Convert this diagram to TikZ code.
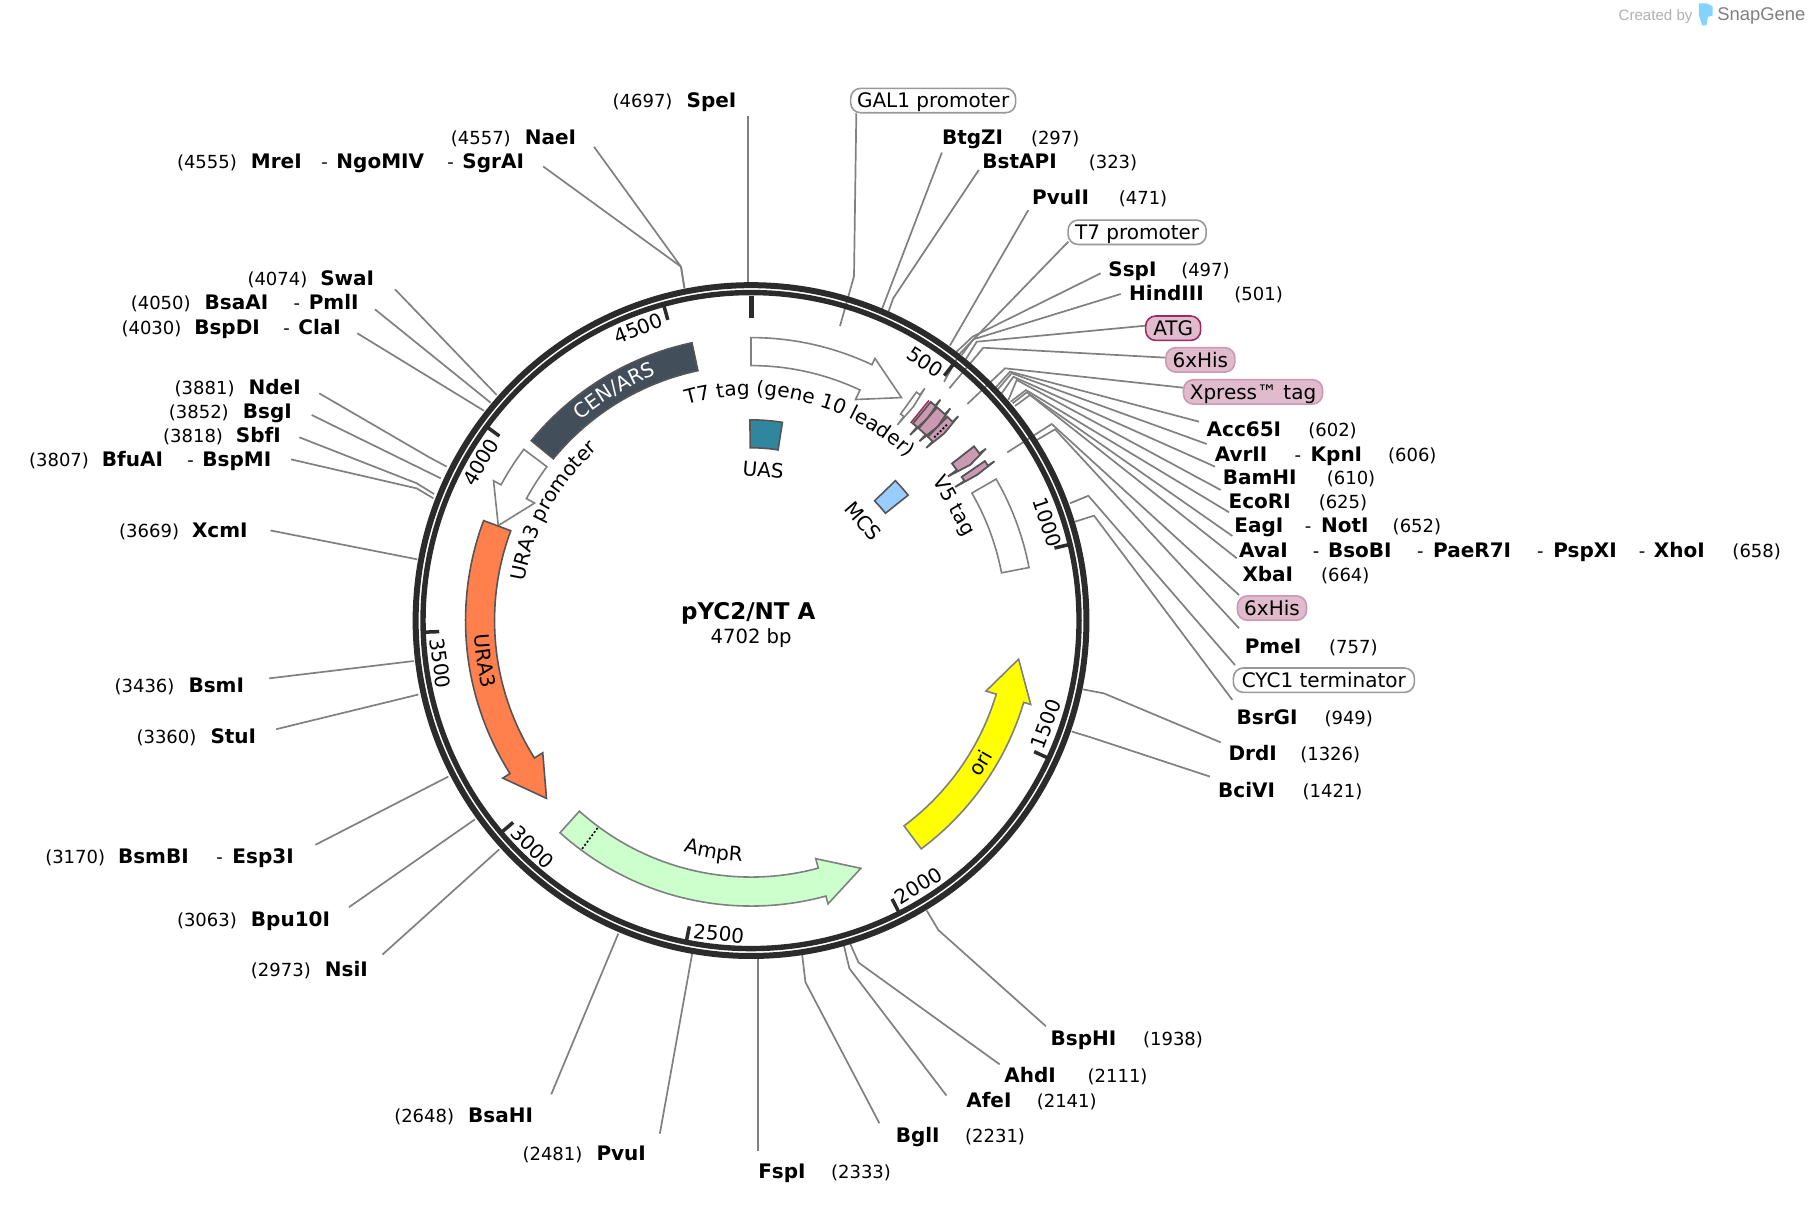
\documentclass[tikz,border=0pt]{standalone}
\usepackage{fontspec}
\setmainfont{DejaVu Sans}
\newfontfamily\wmfont{Liberation Sans}
\usetikzlibrary{decorations.text}

\definecolor{ringc}{HTML}{2B2B2B}
\definecolor{leaderc}{HTML}{808080}
\definecolor{edgec}{HTML}{555555}
\definecolor{cenc}{HTML}{434E5B}
\definecolor{urac}{HTML}{FF7F4D}
\definecolor{ampc}{HTML}{CCFFCC}
\definecolor{oric}{HTML}{FFFF00}
\definecolor{uasc}{HTML}{31869F}
\definecolor{mcsc}{HTML}{99CCFF}
\definecolor{pinkc}{HTML}{CC99B2}
\definecolor{pillc}{HTML}{E0BBCB}
\definecolor{atgc}{HTML}{9E2A63}

\newcommand{\featfont}{\fontsize{20}{22}\selectfont}
\newcommand{\featbox}[5]{\draw[#1] plot[domain=#2:#3,samples=25] (\x-90:#5) -- plot[domain=#3:#2,samples=25] (\x-90:#4) -- cycle;}
\newcommand{\featarrow}[8]{\draw[#1] plot[domain=#2:#3,samples=40] (\x-90:#6) -- (#3-90:#8) -- (#4-90:{(#5+#6)/2}) -- (#3-90:#7) -- (#3-90:#5) -- plot[domain=#3:#2,samples=40] (\x-90:#5) -- cycle;}

\tikzset{
	leader/.style={draw=leaderc,line width=1.7pt},
	enz/.style={anchor=base west,inner sep=0pt,yshift=-7pt,font=\fontsize{20}{22}\selectfont\bfseries},
	sitepos/.style={anchor=base west,inner sep=0pt,yshift=-7pt,font=\fontsize{18}{20}\selectfont},
	pill/.style={draw=#1,rounded corners=10pt,line width=1.6pt,inner sep=0pt,text height=19.5pt,text depth=4.9pt,font=\featfont},
	tickm/.style={draw=ringc,line width=3.5pt},
	ticktext/.style={font=\featfont,inner sep=0pt},
	outl/.style={draw=leaderc,fill=white,line width=1.6pt},
	colr/.style={draw=edgec,fill=#1,line width=1.6pt},
	tagf/.style={draw=edgec,fill=pinkc,line width=1.8pt},
	dots/.style={draw=black,dash pattern=on 2pt off 2pt,line width=1.6pt},
}

\begin{document}
\begin{tikzpicture}[x=1.1556pt,y=-1.1556pt]
	\useasboundingbox[fill=white] (0,0) rectangle (1568,1041.9);
	\coordinate (ctr) at (649.9,537);

	% leader lines, ring end / bend / label end
	\foreach \id/\ax/\ay/\bx/\by/\cx/\cy in {
		gal/726.9/282.1/739/239/741/98,
		btgzi/763/268/763/268/815/132,
		bstapi/768/272/773/258/847/147,
		pvuii/822/299/822/299/889.9/181.7,
		tsev/816.9/330.3/830.8/305.7/924.5/209.1,
		sspi/827.8/304.3/841.7/291.3/952.5/236.5,
		hind/832.2/307.2/842.3/293.6/969.8/254.4,
		atg/835/312/845.2/295.7/991.4/281.8,
		hisa/821.5/336/850.9/300.9/1008.7/309.5,
		xpr/837.1/349.6/869.7/318.7/1024/335.5,
		acc/861/336/874/321.6/1037.6/364.9,
		kpni/862.5/338/875.4/323/1044.2/384.2,
		bamhi/866.8/340.4/876.9/326/1051.4/403.8,
		ecori/872.6/346.1/879.8/328.8/1056.3/424,
		noti/874.6/347.6/887.8/337.5/1063.5/443.3,
		xhoi/876.3/349/888.5/339.5/1066.4/463.8,
		xbai/878.3/351.3/891.3/341.8/1070.2/483.1,
		hisb/871.7/391.4/910.1/366.9/1072.2/514.9,
		pmei/897.1/380.8/913/371.5/1072.2/543.7,
		cyc/925.9/435.5/941.8/429/1068.7/575.5,
		bsrgi/930.3/451.4/946.7/446.2/1066.4/605.7,
		drdi/936.9/596.5/955.3/600/1056.3/642.4,
		bcivi/927.4/633/944.7/638.3/1047/672,
		bsphi/802/788/812/804.8/905/888,
		ahdi/735/815/743/833/865/921,
		afei/730/817/735/838/819/948,
		bgli/694/825/697/850/761/972,
		fspi/656/830/656/830/656/996,
		pvui/599/825/599/825/571/981,
		bsahi/535/808/535/808/477/947,
		nsii/432/735/432/735/331/826,
		bpu/411/709/411/709/302/785,
		esp/388/672/388/672/273/731,
		stui/362/601/362/601/239/631,
		bsmi/358/572/358/572/233/587,
		xcmi/361/484/361/484/234/459,
		bspmi/375/431.2/360.6/422.6/251.8/397.5,
		sbfi/375.6/427.5/360.6/418.2/259/378.4,
		bsgi/381.4/413.9/381.4/413.9/269.7/359.1,
		ndei/386.5/403.8/370.6/395.2/276.3/340.4,
		clai/418.8/355.4/418.8/355.4/309.2/288.4,
		pmli/424.6/348.5/424.6/348.5/324.5/267.7,
		swai/429.8/341.8/429.8/341.8/341.8/250.3,
		sgrai/592.3/249.5/589.3/230.8/470/144,
		naei/592.3/249.5/589.3/230.8/514/127,
		spei/647/245/647/245/647/100}{
		\coordinate (\id a) at (\ax,\ay);
		\coordinate (\id b) at (\bx,\by);
		\coordinate (\id c) at (\cx,\cy);
		\draw[leader] (\id a) -- (\id b) -- (\id c);
	}

	% enzymes
	\foreach \id/\x/\y/\txt in {
		nbtgzi/815/119/BtgZI, nbstapi/850/140/BstAPI, npvuii/893/171/PvuII,
		nsspi/959/233/SspI, nhind/977/254/HindIII, nacc/1044/372/Acc65I,
		navrii/1051/393/AvrII, nkpni/1134/393/KpnI, nbamhi/1058/413/BamHI,
		necori/1063/434/EcoRI, neagi/1068/455/EagI, nnoti/1143/455/NotI,
		navai/1072/476/AvaI, nbsobi/1149/476/BsoBI, npae/1240/476/PaeR7I,
		npsp/1344/476/PspXI, nxhoi/1431/476/XhoI, nxbai/1075/497/XbaI,
		npmei/1077/559/PmeI, nbsrgi/1070/621/BsrGI, ndrdi/1063/652/DrdI,
		nbcivi/1054/684/BciVI, nbsphi/909/899/BspHI, nahdi/869/931/AhdI,
		nafei/836/952/AfeI, nbgli/775/983/BglI, nfspi/656/1014/FspI,
		npvui/516/998/PvuI, nbsahi/405/965/BsaHI, nnsii/281/839/NsiI,
		nbpu/217/796/Bpu10I, nbsmbi/102/741/BsmBI, nesp/201/741/Esp3I,
		nstui/182/637/StuI, nbsmi/163/593/BsmI, nxcmi/166/459/XcmI,
		nbfuai/88/398/BfuAI, nbspmi/175/398/BspMI, nsbfi/204/377/SbfI,
		nbsgi/210/356/BsgI, nndei/215/335/NdeI, nbspdi/168/283/BspDI,
		nclai/258/283/ClaI, nbsaai/177/262/BsaAI, npmli/267/262/PmlI,
		nswai/277/241/SwaI, nmrei/217/140/MreI, nngo/291/140/NgoMIV,
		nsgrai/400/140/SgrAI, nnaei/454/119/NaeI, nspei/594/87/SpeI}{
		\node[enz] (\id) at (\x,\y) {\txt};
	}

	% positions and the dashes between enzymes
	\foreach \id/\x/\y/\txt in {
		p297/892/119/(297), p323/942/140/(323), p471/968/171/(471),
		p497/1022/233/(497), p501/1068/254/(501), p602/1132/372/(602),
		p606/1201/393/(606), p610/1148/413/(610), p625/1141/434/(625),
		p652/1205/455/(652), p658/1499/476/(658), p664/1143/497/(664),
		p757/1150/559/(757), p949/1146/621/(949), p1326/1125/652/(1326),
		p1421/1127/684/(1421), p1938/989/899/(1938), p2111/941/931/(2111),
		p2141/897/952/(2141), p2231/835/983/(2231), p2333/719/1014/(2333),
		p2481/452/998/(2481), p2648/341/965/(2648), p2973/217/839/(2973),
		p3063/153/796/(3063), p3170/39/741/(3170), p3360/118/637/(3360),
		p3436/99/593/(3436), p3669/103/459/(3669), p3807/25/398/(3807),
		p3818/141/377/(3818), p3852/146/356/(3852), p3881/151/335/(3881),
		p4030/105/283/(4030), p4050/113/262/(4050), p4074/214/241/(4074),
		p4555/153/140/(4555), p4557/390/119/(4557), p4697/530/87/(4697),
		da/1120/393/-, db/1129/455/-, dc/1136/476/-, dd/1226/476/-,
		de/1330/476/-, df/1418/476/-, dg/187/741/-, dh/162/398/-,
		di/245/283/-, dj/254/262/-, dk/278/140/-, dl/387/140/-}{
		\node[sitepos] (\id) at (\x,\y) {\txt};
	}

	% boxed features
	\node[pill=leaderc!80,fill=white,minimum width=165pt] (lgal) at (807.5,87) {GAL1 promoter};
	\node[pill=leaderc!80,fill=white,minimum width=138pt] (ltsev) at (984,201) {T7 promoter};
	\node[pill=atgc,fill=pillc,minimum width=55pt] (latg) at (1015.2,284) {ATG};
	\node[pill=pinkc,fill=pillc,minimum width=69pt] (lhisa) at (1038.7,311.4) {6xHis};
	\node[pill=pinkc,fill=pillc,minimum width=139pt] (lxpr) at (1084.3,339.1) {Xpress™ tag};
	\node[pill=pinkc,fill=pillc,minimum width=69pt] (lhisb) at (1100.7,526.2) {6xHis};
	\node[pill=leaderc!80,fill=white,minimum width=181pt] (lcyc) at (1145.6,588.6) {CYC1 terminator};

	% the ring and what sits on it, in pixels round the centre
	\begin{scope}[shift={(649.9,537)},x=1pt,y=-1pt]
		\draw[ringc,line width=6pt] (0,0) circle[radius=335.4pt];
		\draw[ringc,line width=5.4pt] (0,0) circle[radius=328pt];
		\draw[tickm,line width=5pt] (-90:325) -- (-90:303);
		\foreach \p in {500,1000,...,4500}
			\draw[tickm] ({\p/4702*360-90}:326) -- ({\p/4702*360-90}:312);

		\featarrow{outl}{0}{25.3}{34}{255}{283}{244.5}{290}
		\featbox{colr=cenc}{-12}{-50.7}{255.5}{284}
		\featarrow{outl}{-53}{-61.5}{-69.4}{255.6}{284.5}{246.3}{293}
		\featarrow{colr=urac}{-69.5}{-122.4}{-131}{256.5}{285.5}{246.7}{294}
		\featarrow{colr=ampc,draw=leaderc}{-138}{-195.2}{-203.9}{256.5}{285.5}{246.7}{293.6}
		\draw[dots] (-143.5-90:258) -- (-143.5-90:285);
		\featarrow{colr=oric,draw=leaderc}{143.3}{106.7}{98.2}{256}{284.7}{245.3}{292}
		\featbox{colr=uasc}{-0.3}{9}{172.8}{200.7}
		\featbox{colr=mcsc}{45.9}{51.4}{172}{201}
		\featbox{outl}{60}{79.2}{255}{283}

		\featarrow{outl}{35.9}{36.8}{37.2}{255}{282}{244.5}{290}
		\draw[atgc,line width=1.6pt] (38.95-90:254) -- (38.95-90:283);
		\featarrow{tagf}{39.4}{40.6}{41.1}{255}{283}{244.5}{291}
		\featarrow{tagf}{41.1}{43.2}{43.9}{255}{283}{246}{291}
		\featarrow{tagf}{43.9}{45.4}{45.9}{255}{283}{246}{291}
		\draw[dots] (45-90:259) -- (45-90:277);
		\featarrow{tagf}{52}{53.8}{54.6}{255}{283}{244}{291}
		\featarrow{tagf}{55.7}{56.8}{57.2}{255}{283}{244}{291}

		% curved feature names
		\path[decorate,decoration={text along path,text align=center,text={|\featfont|T7 tag (gene 10 leader)}}]
			plot[domain=-35:62.2,samples=60] (\x-90:225);
		\path[decorate,decoration={text along path,text align=center,text={|\featfont|URA3 promoter}}]
			plot[domain=-101:-21,samples=60] (\x-90:230);
		\path[decorate,decoration={text along path,text align=center,text={|\featfont\color{white}|CEN/ARS}}]
			plot[domain=-50:-11.4,samples=40] (\x-90:263);
		\path[decorate,decoration={text along path,text align=center,text={|\featfont|URA3}}]
			plot[domain=-78:-119.2,samples=40] (\x-90:277);
		\path[decorate,decoration={text along path,text align=center,text={|\featfont|AmpR}}]
			plot[domain=215:163.4,samples=40] (\x-90:241);
		\path[decorate,decoration={text along path,text align=center,text={|\featfont|ori}}]
			plot[domain=140:103.6,samples=40] (\x-90:277);
	\end{scope}

	\node[ticktext,rotate=-34] (ta) at (800.4,313) {500};
	\node[ticktext,rotate=-71.8] (tb) at (906.5,452) {1000};
	\node[ticktext,rotate=69.6] (tc) at (905,626.5) {1500};
	\node[ticktext,rotate=32.2] (td) at (794.7,766.4) {2000};
	\node[ticktext,rotate=-5.8] (te) at (622,808) {2500};
	\node[ticktext,rotate=-43.9] (tf) at (461,733) {3000};
	\node[ticktext,rotate=-82] (tg) at (381,574) {3500};
	\node[ticktext,rotate=59.3] (th) at (416,400) {4000};
	\node[ticktext,rotate=21] (ti) at (552.4,284) {4500};

	\node[ticktext,rotate=-5] (luas) at (660.5,406.7) {UAS};
	\node[ticktext,rotate=-49] (lmcs) at (747,451) {MCS};
	\node[ticktext,rotate=-60.6] (lvfive) at (825,438) {V5 tag};

	\node[font=\fontsize{23}{25}\selectfont\bfseries,inner sep=0pt] (title) at (647.5,530.5) {pYC2/NT A};
	\node[font=\fontsize{19.6}{22}\selectfont,inner sep=0pt] (size) at (650,552) {4702 bp};

	% watermark
	\node[font=\wmfont\fontsize{15.1}{17}\selectfont,text=gray!60,anchor=west,inner sep=0pt] (wma) at (1400.5,14) {Created by};
	\fill[mcsc!85!cyan] (1470,3) -- (1477,3) -- (1482,5.5) -- (1482,13.5) -- (1478,14.5) -- (1476.5,22) -- (1473,22) -- (1470,13) -- cycle;
	\node[font=\wmfont\fontsize{18.4}{20}\selectfont,text=leaderc,anchor=west,inner sep=0pt] (wmb) at (1486,14) {SnapGene};
\end{tikzpicture}
\end{document}
